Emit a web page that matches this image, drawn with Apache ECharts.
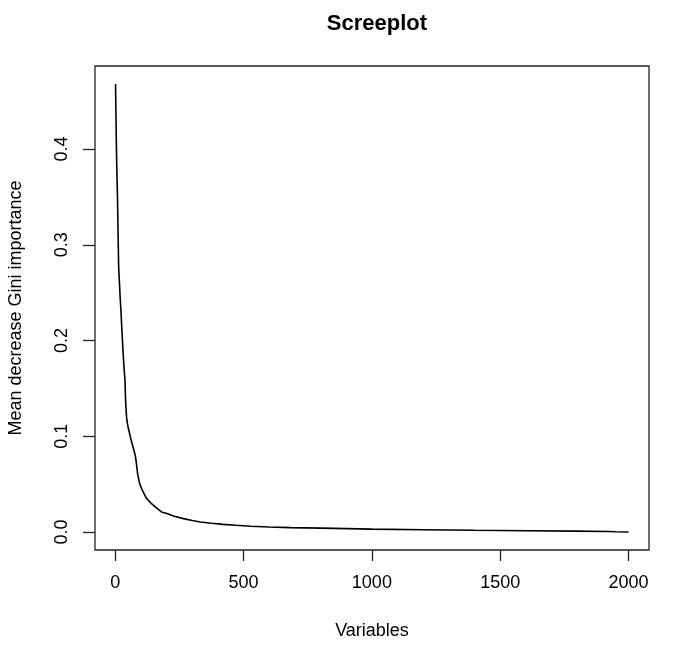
<!DOCTYPE html>
<html>
<head>
<meta charset="utf-8">
<script src="https://cdn.jsdelivr.net/npm/echarts@6/dist/echarts.min.js"></script>
<style>html,body{margin:0;padding:0;background:#fff}#c{width:685px;height:647px}</style>
</head>
<body>
<div id="c"></div>
<script>
const chartTitle = "Screeplot";
const xTitle = "Variables";
const yTitle = "Mean decrease Gini importance";
const xTicks = [0, 500, 1000, 1500, 2000];
const yTicks = [0.0, 0.1, 0.2, 0.3, 0.4];
const variableIndex = [1, 2, 4, 6, 9, 11, 13, 14, 16, 19, 22, 26, 30, 34, 38, 40, 44, 48, 53, 60, 69, 75, 79, 84, 87, 93, 95, 103, 112, 120, 129, 140, 157, 180, 201, 230, 266, 300, 331, 375, 421, 470, 526, 600, 682, 800, 1000, 1200, 1400, 1600, 1800, 1920, 1950, 2000];
const giniImportance = [0.468, 0.45, 0.41, 0.38, 0.345, 0.31, 0.28, 0.272, 0.262, 0.245, 0.232, 0.21, 0.19, 0.172, 0.158, 0.138, 0.12, 0.112, 0.106, 0.098, 0.089, 0.083, 0.0785, 0.068, 0.061, 0.053, 0.0506, 0.045, 0.040, 0.036, 0.033, 0.030, 0.026, 0.021, 0.0193, 0.0165, 0.014, 0.012, 0.0105, 0.0092, 0.008, 0.007, 0.006, 0.0052, 0.0046, 0.004, 0.003, 0.0024, 0.0018, 0.0013, 0.0009, 0.0006, 0.0003, 0.0];

const seriesData = variableIndex.map((x, i) => [x, giniImportance[i]]);
const font = "Liberation Sans, Arial, Helvetica, sans-serif";

const chart = echarts.init(document.getElementById('c'), null, {renderer: 'canvas'});
chart.setOption({
  animation: false,
  backgroundColor: '#fff',
  title: {
    text: chartTitle, left: 372, top: 8, textAlign: 'center',
    textStyle: {fontFamily: font, fontSize: 22, fontWeight: 'bold', color: '#000'}
  },
  grid: {left: 95, right: 36, top: 66, bottom: 97, show: true, borderColor: '#222', borderWidth: 1.3,
    containLabel: false, outerBoundsMode: 'none'},
  xAxis: {
    type: 'value', min: -79, max: 2080,
    name: xTitle, nameLocation: 'middle', nameGap: 72,
    nameTextStyle: {fontFamily: font, fontSize: 18, color: '#000'},
    axisLine: {show: false, onZero: false},
    splitLine: {show: false},
    axisTick: {show: true, inside: false, length: 11, customValues: xTicks, lineStyle: {color: '#222', width: 1.3}},
    axisLabel: {customValues: xTicks, margin: 24, fontFamily: font, fontSize: 18, color: '#000',
      formatter: v => String(v)}
  },
  yAxis: {
    type: 'value', min: -0.0188, max: 0.4868,
    name: yTitle, nameLocation: 'middle', nameGap: 70,
    nameTextStyle: {fontFamily: font, fontSize: 18, color: '#000'},
    axisLine: {show: false, onZero: false},
    splitLine: {show: false},
    axisTick: {show: true, inside: false, length: 12, customValues: yTicks, lineStyle: {color: '#222', width: 1.3}},
    axisLabel: {customValues: yTicks, rotate: 90, margin: 24, fontFamily: font, fontSize: 18, color: '#000',
      formatter: v => v.toFixed(1)}
  },
  series: [{
    type: 'line', data: seriesData, showSymbol: false, symbol: 'none',
    lineStyle: {color: '#000', width: 1.6}, silent: true
  }]
});
</script>
</body>
</html>
